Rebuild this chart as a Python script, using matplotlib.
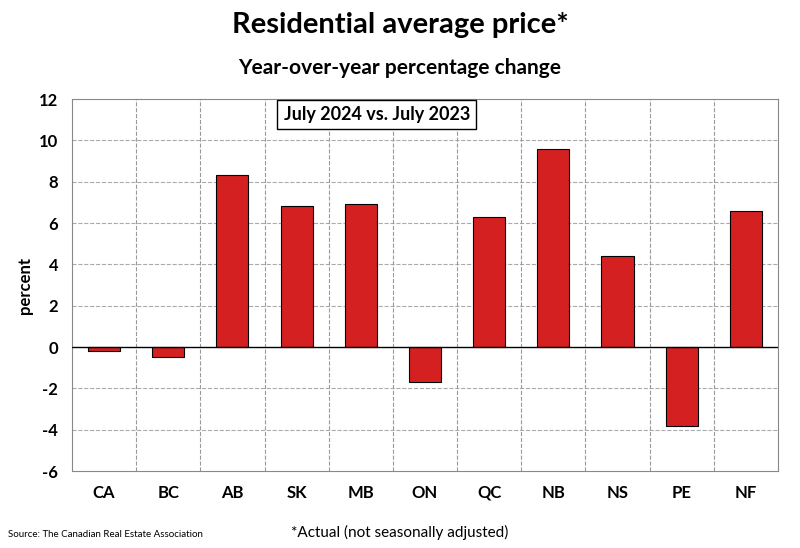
import matplotlib
matplotlib.use("Agg")
import matplotlib.pyplot as plt

categories = ["CA", "BC", "AB", "SK", "MB", "ON", "QC", "NB", "NS", "PE", "NF"]
values = [-0.2, -0.5, 8.3, 6.8, 6.9, -1.7, 6.3, 9.6, 4.4, -3.8, 6.6]
yticks = [-6, -4, -2, 0, 2, 4, 6, 8, 10, 12]

plt.rcParams['font.family'] = ['Lato', 'DejaVu Sans']
fig = plt.figure(figsize=(8, 5.48), dpi=100)
ax = fig.add_axes([0.09, 0.1405, 0.8825, 0.6788])
x = range(len(categories))
ax.bar(x, values, width=0.5, color="#d42020", edgecolor="black", linewidth=0.8, zorder=3)
ax.set_xlim(-0.5, len(categories) - 0.5)
ax.set_ylim(-6, 12)
ax.set_yticks(yticks)
ax.set_xticks(list(x))
ax.set_xticklabels(categories, fontsize=12, fontweight="bold")
ax.set_yticklabels([str(v) for v in yticks], fontsize=12, fontweight="bold")
ax.tick_params(length=0, pad=10)
for yv in yticks[1:-1]:
    if yv != 0:
        ax.axhline(yv, color="#aaaaaa", linestyle="--", linewidth=0.8, zorder=1)
for i in range(len(categories) - 1):
    ax.axvline(i + 0.5, color="#999999", linestyle="--", linewidth=0.8, zorder=1)
ax.axhline(0, color="black", linewidth=1, zorder=4)
for s in ax.spines.values():
    s.set_color("#888888")
ax.set_ylabel("percent", fontsize=12, fontweight="bold")
fig.text(0.5, 0.94, "Residential average price*", ha="center", fontsize=21, fontweight="bold")
fig.text(0.5, 0.865, "Year-over-year percentage change", ha="center", fontsize=15, fontweight="bold")
ax.text(0.3, 0.958, "July 2024 vs. July 2023", transform=ax.transAxes, ha="left", va="center",
        fontsize=13, fontweight="bold",
        bbox=dict(boxstyle="square,pad=0.35", fc="white", ec="black", lw=1), zorder=5)
fig.text(0.01, 0.02, "Source: The Canadian Real Estate Association", fontsize=7)
fig.text(0.5, 0.02, "*Actual (not seasonally adjusted)", ha="center", fontsize=11)
fig.savefig("out.png", dpi=100)
